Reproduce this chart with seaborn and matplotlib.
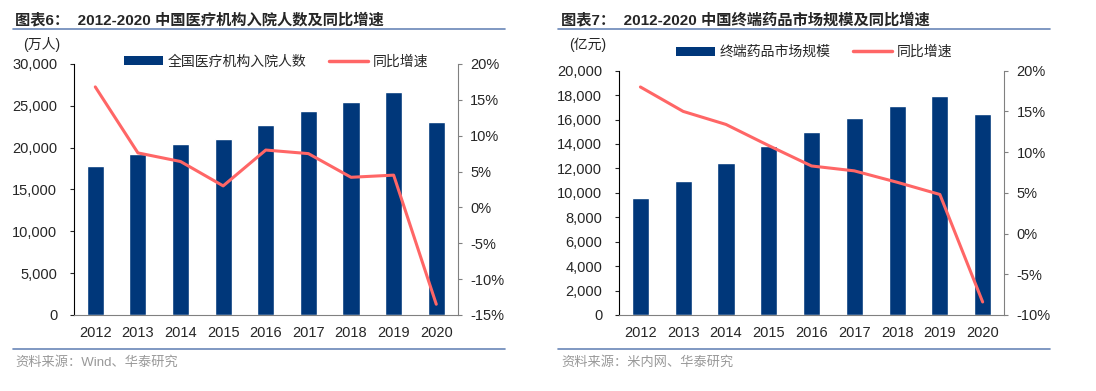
import numpy as np
import pandas as pd
import matplotlib
matplotlib.use("Agg")
import matplotlib.pyplot as plt
from matplotlib.lines import Line2D
from matplotlib.patches import Patch
from matplotlib.ticker import FuncFormatter, FixedLocator
import seaborn as sns

# 数据
anos = ["2012", "2013", "2014", "2015", "2016", "2017", "2018", "2019", "2020"]
ruyuan = [17857, 19215, 20441, 21053, 22728, 24436, 25454, 26596, 23013]      # 万人
ruyuan_zengsu = [16.8, 7.6, 6.4, 3.0, 8.0, 7.5, 4.2, 4.5, -13.5]              # %
shichang = [9555, 11000, 12457, 13829, 14975, 16118, 17131, 17955, 16437]     # 亿元
shichang_zengsu = [18.0, 15.0, 13.4, 10.8, 8.3, 7.7, 6.3, 4.8, -8.4]          # %

sns.set_style("white")
plt.rcParams["font.family"] = ["Liberation Sans", "Noto Sans CJK SC"]

AZUL = "#00377A"
VERMELHO = "#FF6666"
LINHA = "#6A86B8"
CINZA = "#808080"

fig = plt.figure(figsize=(10.96, 3.91), dpi=100)


def painel(pos, valores, zengsu, ylim, yticks, y2lim, y2ticks, nome_barra, leg_pos):
    ax = fig.add_axes(pos)
    df = pd.DataFrame({"ano": anos, "valor": valores})
    sns.barplot(data=df, x="ano", y="valor", color=AZUL, saturation=1, width=0.4, ax=ax)
    ax2 = ax.twinx()
    sns.lineplot(x=np.arange(len(anos)), y=zengsu, color=VERMELHO, linewidth=2.2, ax=ax2)

    ax.set_xlim(-0.5, len(anos) - 0.5)
    ax.set_ylim(*ylim)
    ax.set_yticks(yticks)
    ax.yaxis.set_major_formatter(FuncFormatter(lambda v, p: f"{v:,.0f}"))
    ax2.set_ylim(*y2lim)
    ax2.set_yticks(y2ticks)
    ax2.yaxis.set_major_formatter(FuncFormatter(lambda v, p: f"{v:.0f}%"))
    ax.set_xlabel("")
    ax.set_ylabel("")
    ax2.set_ylabel("")

    # ticks entre as categorias
    ax.xaxis.set_minor_locator(FixedLocator(np.arange(-0.5, len(anos), 1)))
    ax.tick_params(axis="x", which="major", length=0, pad=8, labelsize=10.5)
    ax.tick_params(axis="x", which="minor", length=4, width=0.8, color=CINZA, direction="out")
    ax.tick_params(axis="y", length=3, width=0.8, direction="out", pad=9, labelsize=10.5)
    ax2.tick_params(axis="y", length=3, width=0.8, color=CINZA, direction="out", pad=6, labelsize=10.5)

    for s in ["top", "right"]:
        ax.spines[s].set_visible(False)
    ax.spines["left"].set_color("black")
    ax.spines["bottom"].set_color(CINZA)
    for s in ["top", "left", "bottom"]:
        ax2.spines[s].set_visible(False)
    ax2.spines["right"].set_color(CINZA)

    handles = [Patch(facecolor=AZUL, edgecolor="none"),
               Line2D([], [], color=VERMELHO, linewidth=2.5)]
    fig.legend(handles, [nome_barra, "同比增速"], loc="center", bbox_to_anchor=leg_pos,
               ncol=2, frameon=False, fontsize=10, handlelength=2.8, handleheight=0.6,
               handletextpad=0.35, columnspacing=1.6)
    return ax, ax2


painel([0.0675, 0.1944, 0.350, 0.642], ruyuan, ruyuan_zengsu,
       (0, 30000), range(0, 30001, 5000), (-15, 20), range(-15, 21, 5),
       "全国医疗机构入院人数", (0.252, 0.842))
painel([0.5648, 0.1944, 0.3513, 0.6248], shichang, shichang_zengsu,
       (0, 20000), range(0, 20001, 2000), (-10, 20), range(-10, 21, 5),
       "终端药品市场规模", (0.743, 0.867))

# títulos, unidades, fontes
fig.text(15 / 1096, 1 - 20 / 391, "图表6：  2012-2020 中国医疗机构入院人数及同比增速",
         fontsize=11, fontweight="bold", va="center", ha="left")
fig.text(561 / 1096, 1 - 20 / 391, "图表7：  2012-2020 中国终端药品市场规模及同比增速",
         fontsize=11, fontweight="bold", va="center", ha="left")
fig.text(42 / 1096, 1 - 45 / 391, "(万人)", fontsize=10, ha="center", va="center")
fig.text(588 / 1096, 1 - 45 / 391, "(亿元)", fontsize=10, ha="center", va="center")
fig.text(15 / 1096, 1 - 362 / 391, "资料来源：Wind、华泰研究", fontsize=9.5, color="#999999",
         ha="left", va="center")
fig.text(561 / 1096, 1 - 362 / 391, "资料来源：米内网、华泰研究", fontsize=9.5, color="#999999",
         ha="left", va="center")

# linhas separadoras
for x0, x1 in [(13, 505), (558, 1050)]:
    for y in [29, 349]:
        fig.add_artist(Line2D([x0 / 1096, x1 / 1096], [1 - y / 391, 1 - y / 391],
                              color=LINHA, linewidth=1.2, transform=fig.transFigure))

fig.savefig("out.png", dpi=100)
